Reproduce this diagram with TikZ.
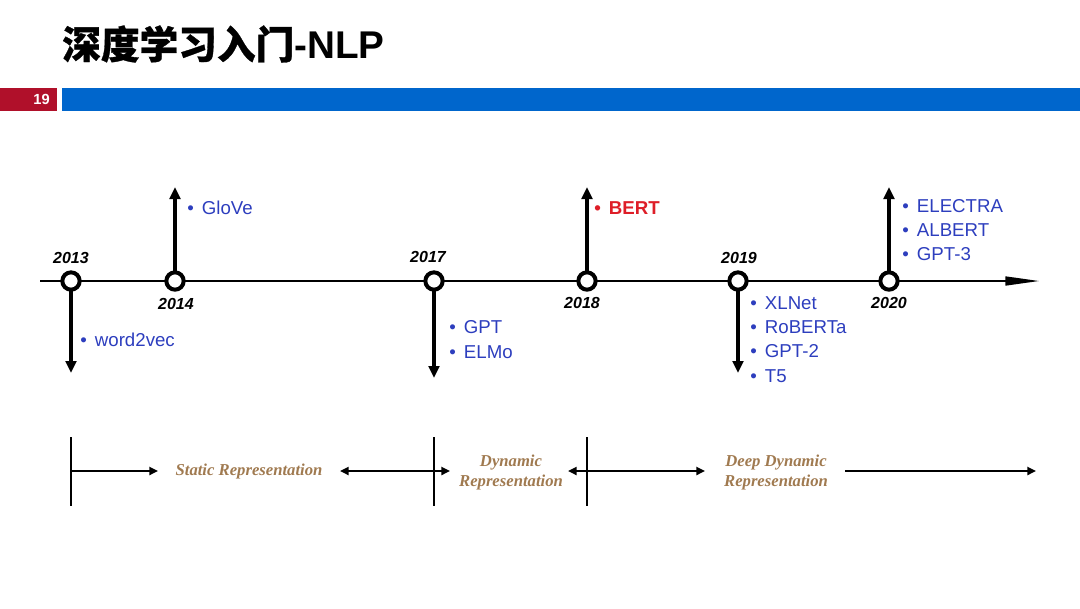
\documentclass[tikz,border=0pt]{standalone}
\usepackage{fontspec}
\setmainfont{Liberation Sans}
\newfontfamily\cjk{Noto Sans CJK SC}[BoldFeatures={FakeBold=0.8}]
\newfontfamily\tnr{Liberation Serif}
\usetikzlibrary{arrows.meta}
\definecolor{tblue}{RGB}{45,62,190}
\definecolor{tred}{RGB}{222,30,40}
\definecolor{barred}{RGB}{176,16,42}
\definecolor{barblue}{RGB}{0,102,204}
\definecolor{repbrown}{RGB}{160,122,80}
\newcommand\itm[1]{\makebox[11pt][l]{\textbullet}#1}
\tikzset{
  yearcirc/.style={circle,draw=black,fill=white,line width=3pt,minimum size=13pt,inner sep=0pt},
  tline/.style={line width=2pt,-{Triangle[length=26pt,width=6.5pt]}},
  varrow/.style={line width=2.8pt,-{Triangle[length=9pt,width=8pt]}},
  yearlab/.style={font=\fontsize{12}{14}\selectfont\bfseries\itshape,inner sep=0pt},
  item/.style={font=\fontsize{14}{17}\selectfont,text=tblue,anchor=mid west,inner sep=0pt},
  tick/.style={line width=2pt},
  rarrow/.style={line width=2pt,-{Triangle[length=6.5pt,width=6pt]}},
  darrow/.style={line width=2pt,{Triangle[length=6.5pt,width=6pt]}-{Triangle[length=6.5pt,width=6pt]}},
  rep/.style={font=\tnr\fontsize{12.5}{15}\selectfont\bfseries\itshape,text=repbrown,align=center,inner sep=0pt}
}
\begin{document}
\begin{tikzpicture}[x=0.75pt,y=-0.75pt]
\useasboundingbox (0,0) rectangle (1080,608);
% title
\node[anchor=west,inner sep=0pt] (title) at (62,44) {\fontsize{29}{34}\selectfont{\cjk\bfseries 深度学习入门}\bfseries -NLP};
% bars
\fill[barred] (0,88) rectangle (57,111);
\fill[barblue] (62,88) rectangle (1080,111);
\node[anchor=east,text=white,font=\fontsize{11}{13}\selectfont\bfseries,inner sep=0pt] (num) at (50,99.5) {19};
% timeline
\coordinate (tls) at (40,281);
\coordinate (tle) at (1040,281);
\draw[tline] (tls) -- (tle);
% vertical arrows
\coordinate (e13) at (71,373);
\coordinate (e14) at (175,187);
\coordinate (e17) at (434,378);
\coordinate (e18) at (587,187);
\coordinate (e19) at (738,373);
\coordinate (e20) at (889,187);
\draw[varrow] (71,281) -- (e13);
\draw[varrow] (175,281) -- (e14);
\draw[varrow] (434,281) -- (e17);
\draw[varrow] (587,281) -- (e18);
\draw[varrow] (738,281) -- (e19);
\draw[varrow] (889,281) -- (e20);
% circles
\node[yearcirc] (c13) at (71,281) {};
\node[yearcirc] (c14) at (175,281) {};
\node[yearcirc] (c17) at (434,281) {};
\node[yearcirc] (c18) at (587,281) {};
\node[yearcirc] (c19) at (738,281) {};
\node[yearcirc] (c20) at (889,281) {};
% year labels
\node[yearlab] (y13) at (71,258) {2013};
\node[yearlab] (y14) at (176,304) {2014};
\node[yearlab] (y17) at (428,257) {2017};
\node[yearlab] (y18) at (582,303) {2018};
\node[yearlab] (y19) at (739,258) {2019};
\node[yearlab] (y20) at (889,303) {2020};
% items
\node[item] (glove) at (187,211) {\itm{GloVe}};
\node[item] (w2v) at (80,343) {\itm{word2vec}};
\node[item] (gpt) at (449,330) {\itm{GPT}};
\node[item] (elmo) at (449,355) {\itm{ELMo}};
\node[item,text=tred,font=\fontsize{14}{17}\selectfont\bfseries] (bert) at (594,211) {\itm{BERT}};
\node[item] (xlnet) at (750,306) {\itm{XLNet}};
\node[item] (roberta) at (750,330) {\itm{RoBERTa}};
\node[item] (gpt2) at (750,354) {\itm{GPT-2}};
\node[item] (t5) at (750,379) {\itm{T5}};
\node[item] (electra) at (902,209) {\itm{ELECTRA}};
\node[item] (albert) at (902,233) {\itm{ALBERT}};
\node[item] (gpt3) at (902,257) {\itm{GPT-3}};
% bottom ranges
\coordinate (t1a) at (71,437); \coordinate (t1b) at (71,506);
\coordinate (t2a) at (434,437); \coordinate (t2b) at (434,506);
\coordinate (t3a) at (587,437); \coordinate (t3b) at (587,506);
\draw[tick] (t1a) -- (t1b);
\draw[tick] (t2a) -- (t2b);
\draw[tick] (t3a) -- (t3b);
\coordinate (a1s) at (71,471); \coordinate (a1e) at (158,471);
\coordinate (a2s) at (340,471); \coordinate (a2e) at (450,471);
\coordinate (a3s) at (568,471); \coordinate (a3e) at (705,471);
\coordinate (a4s) at (845,471); \coordinate (a4e) at (1036,471);
\draw[rarrow] (a1s) -- (a1e);
\draw[darrow] (a2s) -- (a2e);
\draw[darrow] (a3s) -- (a3e);
\draw[rarrow] (a4s) -- (a4e);
\node[rep] (r1) at (249,471) {Static Representation};
\node[rep] (r2) at (511,472) {Dynamic\\Representation};
\node[rep] (r3) at (776,472) {Deep Dynamic\\Representation};
\end{tikzpicture}
\end{document}
